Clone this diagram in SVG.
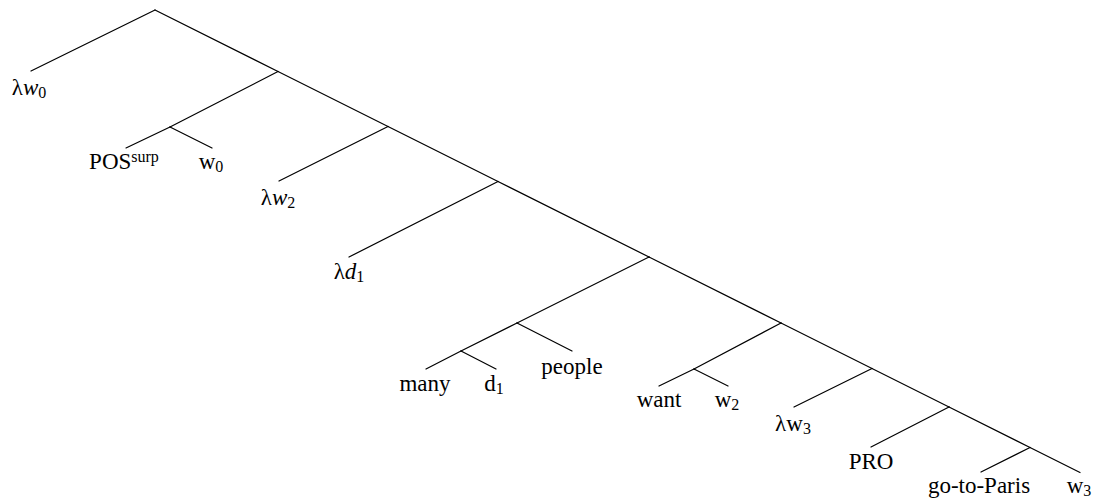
<svg xmlns="http://www.w3.org/2000/svg" width="1094" height="500" viewBox="0 0 1094 500">
<style>
  .edge { stroke: #000; stroke-width: 1.2; fill: none; stroke-linecap: round; }
  .lbl { font-family: "Liberation Serif", "DejaVu Serif", serif; font-size: 23px; fill: #000; text-anchor: middle; }
  .it { font-style: italic; }
  .sub { font-size: 16px; }
</style>
<rect width="1094" height="500" fill="#fff"/>
<g id="connectors">
  <line class="edge" x1="155" y1="10" x2="31" y2="71"/>
  <line class="edge" x1="155" y1="10" x2="278" y2="71.5"/>
  <line class="edge" x1="278" y1="71.5" x2="170" y2="127"/>
  <line class="edge" x1="278" y1="71.5" x2="388" y2="126.5"/>
  <line class="edge" x1="170" y1="127" x2="126" y2="148"/>
  <line class="edge" x1="170" y1="127" x2="212" y2="148"/>
  <line class="edge" x1="388" y1="126.5" x2="279" y2="181"/>
  <line class="edge" x1="388" y1="126.5" x2="498" y2="181.5"/>
  <line class="edge" x1="498" y1="181.5" x2="349" y2="257"/>
  <line class="edge" x1="498" y1="181.5" x2="649" y2="257"/>
  <line class="edge" x1="649" y1="257" x2="517" y2="323"/>
  <line class="edge" x1="649" y1="257" x2="781" y2="323"/>
  <line class="edge" x1="517" y1="323" x2="461" y2="351"/>
  <line class="edge" x1="517" y1="323" x2="572" y2="351"/>
  <line class="edge" x1="461" y1="351" x2="426" y2="369"/>
  <line class="edge" x1="461" y1="351" x2="496" y2="369"/>
  <line class="edge" x1="781" y1="323" x2="694" y2="369"/>
  <line class="edge" x1="781" y1="323" x2="872" y2="368.5"/>
  <line class="edge" x1="694" y1="369" x2="659" y2="386"/>
  <line class="edge" x1="694" y1="369" x2="728" y2="386"/>
  <line class="edge" x1="872" y1="368.5" x2="794" y2="407"/>
  <line class="edge" x1="872" y1="368.5" x2="949" y2="407"/>
  <line class="edge" x1="949" y1="407" x2="871" y2="447"/>
  <line class="edge" x1="949" y1="407" x2="1030" y2="447.5"/>
  <line class="edge" x1="1030" y1="447.5" x2="981" y2="472"/>
  <line class="edge" x1="1030" y1="447.5" x2="1080" y2="472.5"/>
</g>
<g id="node-lw0"><text class="lbl" x="29" y="95">λ<tspan class="it">w</tspan><tspan class="sub" dy="3">0</tspan></text></g>
<g id="node-pos"><text class="lbl" x="124" y="169">POS<tspan class="sub" dy="-7">surp</tspan></text></g>
<g id="node-w0"><text class="lbl" x="211" y="169">w<tspan class="sub" dy="3">0</tspan></text></g>
<g id="node-lw2"><text class="lbl" x="278" y="205">λ<tspan class="it">w</tspan><tspan class="sub" dy="3">2</tspan></text></g>
<g id="node-ld1"><text class="lbl" x="349" y="279">λ<tspan class="it">d</tspan><tspan class="sub" dy="3">1</tspan></text></g>
<g id="node-many"><text class="lbl" x="425" y="391">many</text></g>
<g id="node-d1"><text class="lbl" x="494" y="391">d<tspan class="sub" dy="3">1</tspan></text></g>
<g id="node-people"><text class="lbl" x="572" y="374">people</text></g>
<g id="node-want"><text class="lbl" x="659" y="407">want</text></g>
<g id="node-w2"><text class="lbl" x="727" y="407">w<tspan class="sub" dy="3">2</tspan></text></g>
<g id="node-lw3"><text class="lbl" x="793" y="431">λw<tspan class="sub" dy="3">3</tspan></text></g>
<g id="node-pro"><text class="lbl" x="871" y="469">PRO</text></g>
<g id="node-gotoparis"><text class="lbl" x="979" y="493">go-to-Paris</text></g>
<g id="node-w3"><text class="lbl" x="1079" y="493">w<tspan class="sub" dy="3">3</tspan></text></g>
</svg>
